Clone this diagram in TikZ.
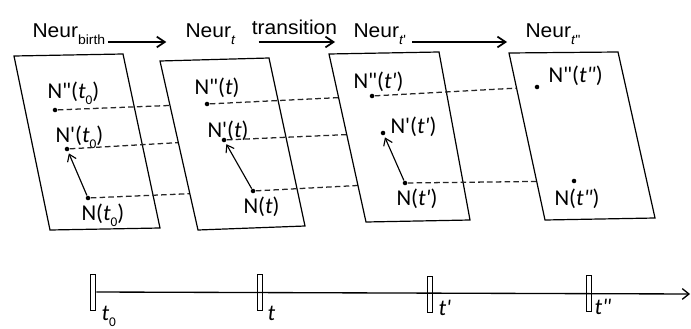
\documentclass[tikz,border=0pt]{standalone}
\usepackage{fontspec}
\setmainfont[FakeStretch=1.05]{Liberation Sans}
\newfontfamily\lblfont{Carlito}
\usetikzlibrary{arrows.meta}
\newcommand\lowsub[2][0.28em]{\raisebox{-#1}{\fontsize{10}{11}\selectfont #2}}
\newcommand\apo{\textquotesingle}

\tikzset{every picture/.style={line width=0.75pt}}
\tikzset{
  panel/.style={draw, fill=white, line width=0.9pt},
  spot/.style={circle, fill, inner sep=0pt, minimum size=3.4pt},
  link/.style={draw=black!85, dash pattern=on 4.2pt off 2.4pt, line width=0.95pt},
  sprout/.style={-{Straight Barb[length=5pt,width=7pt]}, line width=0.85pt, shorten >=1.5pt},
  head/.style={font=\fontsize{15}{17}\selectfont, inner sep=0pt, anchor=base west},
  flow/.style={-{Straight Barb[length=6pt,width=8pt]}, line width=1.3pt},
  lbl/.style={font=\lblfont\fontsize{17}{19}\selectfont, inner sep=0pt, anchor=base west},
  timemark/.style={draw, fill=white, inner sep=0pt, minimum width=4.3pt, minimum height=27pt},
  timeline/.style={-{Straight Barb[length=5pt,width=8pt]}, line width=1pt}
}

\begin{document}
\begin{tikzpicture}[x=0.75pt,y=0.75pt,yscale=-1,xscale=1]
\useasboundingbox (0,0) rectangle (691,328);

% Points
\coordinate (q1) at (55,110);  \coordinate (p1) at (67,149);  \coordinate (n1) at (88,198);
\coordinate (q2) at (207,104); \coordinate (p2) at (224,140); \coordinate (n2) at (253,191);
\coordinate (q3) at (372,96);  \coordinate (p3) at (383,133); \coordinate (n3) at (405,183);
\coordinate (q4) at (537,87);  \coordinate (n4) at (574,181);

% Titles
\node[head] (hb) at (32,38) {Neur\lowsub[0.35em]{birth}};
\node[head] (ht) at (185,38) {Neur\lowsub[0.35em]{\textit{t}}};
\node[head] (ht1) at (353,38) {Neur\lowsub[0.35em]{\textit{t}\apo}};
\node[head] (ht2) at (525,38) {Neur\lowsub[0.35em]{\textit{t}\apo\apo}};
% Connection
\draw[flow, shorten <=1.5pt, shorten >=14pt] ([yshift=3pt]hb.base east) -- ([yshift=3pt]ht.base west);
\draw[flow, shorten <=17pt, shorten >=13.5pt] ([yshift=3pt]ht.base east) -- ([yshift=3pt]ht1.base west) node[midway, above=4.5pt, inner sep=0pt, font=\fontsize{15}{17}\selectfont] {transition};
\draw[flow, shorten <=4.5pt, shorten >=13.5pt] ([yshift=3pt]ht1.base east) -- ([yshift=3pt]ht2.base west);

% Panel 1
\draw[panel] (14,56) -- (123,54) -- (160,228) -- (50,230) -- cycle;
\node[spot] (dq1) at (q1) {};
\node[spot] (dp1) at (p1) {};
\node[spot] (dn1) at (n1) {};
\node[lbl] (lq1) at (47,98) {N"(\textit{t}\lowsub{0})};
\node[lbl] (lp1) at (55,142) {N\apo(\textit{t}\lowsub{0})};
\node[lbl] (ln1) at (81,220) {N(\textit{t}\lowsub{0})};
\draw[sprout] (dn1) -- (dp1);
\draw[link] (dq1) -- (q2);
\draw[link] (dp1) -- (p2);
\draw[link] (dn1) -- (n2);

% Panel 2
\draw[panel] (160,61) -- (269,58) -- (305,226) -- (198,230) -- cycle;
\node[spot] (dq2) at (q2) {};
\node[spot] (dp2) at (p2) {};
\node[spot] (dn2) at (n2) {};
\node[lbl] (lq2) at (194,94) {N"(\textit{t})};
\node[lbl] (lp2) at (207,137) {N\apo(\textit{t})};
\node[lbl] (ln2) at (243,213) {N(\textit{t})};
\draw[sprout] (dn2) -- (dp2);
\draw[link] (dq2) -- (q3);
\draw[link] (dp2) -- (p3);
\draw[link] (dn2) -- (n3);

% Panel 3
\draw[panel] (329,54) -- (439,52) -- (470,220) -- (366,222) -- cycle;
\node[spot] (dq3) at (q3) {};
\node[spot] (dp3) at (p3) {};
\node[spot] (dn3) at (n3) {};
\node[lbl] (lq3) at (353,88) {N"(\textit{t\apo})};
\node[lbl] (lp3) at (390,133) {N\apo(\textit{t\apo})};
\node[lbl] (ln3) at (396,205) {N(\textit{t\apo})};
\draw[sprout] (dn3) -- (dp3);
\draw[link] (dq3) -- (q4);
\draw[link] (dn3) -- (n4);

% Panel 4
\draw[panel] (509,53) -- (618,52) -- (655,218) -- (545,220) -- cycle;
\node[spot] (dq4) at (q4) {};
\node[spot] (dn4) at (n4) {};
\node[lbl] (lq4) at (548,82) {N"(\textit{t"})};
\node[lbl] (ln4) at (554,205) {N(\textit{t"})};

% Time line
\node[timemark] (k0) at (93,292) {};
\node[timemark] (k1) at (260,292) {};
\node[timemark] (k2) at (430,294) {};
\node[timemark] (k3) at (589,293) {};
\coordinate (kend) at (690,294);
\draw[timeline] (k0.east) -- (kend);
\node[lbl] (lk0) at (101,320) {\textit{t}\lowsub{0}};
\node[lbl] (lk1) at (267,320) {\textit{t}};
\node[lbl] (lk2) at (438,315) {\textit{t\apo}};
\node[lbl] (lk3) at (594,314) {\textit{t"}};

\end{tikzpicture}
\end{document}
